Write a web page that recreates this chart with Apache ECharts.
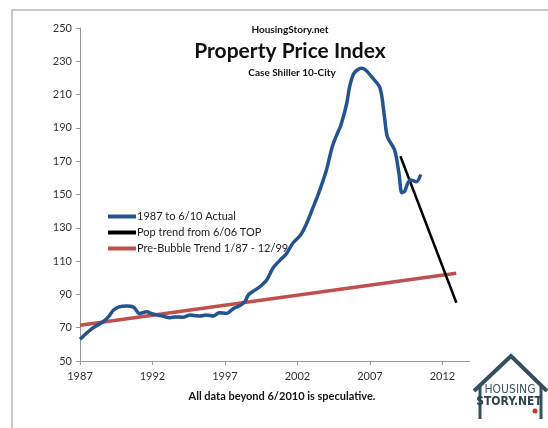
<!DOCTYPE html>
<html>
<head>
<meta charset="utf-8">
<script src="https://cdn.jsdelivr.net/npm/echarts@6/dist/echarts.min.js"></script>
<style>html,body{margin:0;padding:0;background:#fff}#c{width:548px;height:428px}</style>
</head>
<body>
<div id="c"></div>
<script>
// Actual index (decimal year, value)
var actualYears = [1987.0,1987.3,1987.7,1988.1,1988.6,1989.0,1989.3,1989.7,1990.2,1990.7,1991.1,1991.6,1992.0,1992.4,1992.7,1993.2,1993.6,1994.1,1994.6,1995.0,1995.3,1995.7,1996.2,1996.6,1997.1,1997.6,1998.1,1998.4,1998.6,1998.9,1999.4,1999.9,2000.3,2000.8,2001.2,2001.7,2002.2,2002.6,2003.1,2003.5,2004.0,2004.4,2004.8,2005.0,2005.4,2005.6,2005.9,2006.4,2006.7,2007.2,2007.7,2008.0,2008.2,2008.7,2009.0,2009.2,2009.4,2009.6,2009.8,2010.2,2010.5];
var actualValues = [63,65.5,68.6,71,73.6,77,80.5,82.5,83,82.3,78.6,79.6,78.2,77.5,77,76,76.5,76.3,77.6,77.2,77,77.6,77,79,78.6,81.6,83.6,86,89.6,91.6,94.6,99,105.7,110.6,114,121,125.5,132,142.7,151.7,164.7,178.7,187.7,191.7,204.8,214.8,222.8,225.8,224.8,219.8,213.8,196.7,184.7,176.7,162.7,151,152,156.7,158.7,157.7,162];
var popYears = [2009.1, 2012.96];
var popValues = [173, 85];
var trendYears = [1987.0, 2012.95];
var trendValues = [71.5, 102.7];
var xTicks = [1987, 1992, 1997, 2002, 2007, 2012];
var seriesNames = ['1987 to 6/10 Actual', 'Pop trend from 6/06 TOP', 'Pre-Bubble Trend 1/87 - 12/99'];

function zip(a, b) { return a.map(function (v, i) { return [v, b[i]]; }); }

var FONT = 'Lato, "Open Sans", sans-serif';
var chart = echarts.init(document.getElementById('c'), null, {renderer: 'canvas'});
chart.setOption({
  backgroundColor: '#fff',
  animation: false,
  textStyle: {fontFamily: FONT},
  title: [
    {text: 'HousingStory.net', left: 285, top: 20, textAlign: 'center',
     textStyle: {fontSize: 10, fontWeight: 'bold', color: '#111', fontFamily: FONT}},
    {text: 'Property Price Index', left: 285, top: 36, textAlign: 'center',
     textStyle: {fontSize: 21, fontWeight: 'bold', color: '#111', fontFamily: FONT}},
    {text: 'Case Shiller 10-City', left: 287, top: 63, textAlign: 'center',
     textStyle: {fontSize: 10, fontWeight: 'bold', color: '#111', fontFamily: FONT}},
    {text: 'All data beyond 6/2010 is speculative.', left: 277, top: 386, textAlign: 'center',
     textStyle: {fontSize: 11, fontWeight: 'bold', color: '#111', fontFamily: FONT}}
  ],
  legend: {
    orient: 'vertical', left: 103, top: 206, itemGap: 5,
    itemWidth: 28, itemHeight: 4, icon: 'rect',
    textStyle: {fontSize: 11, color: '#222', fontFamily: FONT, padding: [0, 0, 0, -4]},
    data: seriesNames
  },
  grid: {left: 80, right: 78, top: 28, bottom: 67, containLabel: false},
  xAxis: {
    type: 'value', min: 1987, max: 2013.9,
    splitLine: {show: false},
    axisLine: {lineStyle: {color: '#999', width: 1}},
    axisTick: {customValues: xTicks, length: 4, lineStyle: {color: '#999'}},
    axisLabel: {customValues: xTicks, fontSize: 11, color: '#333', margin: 10, fontFamily: FONT,
                formatter: function (v) { return String(v); }}
  },
  yAxis: {
    type: 'value', min: 50, max: 250, interval: 20,
    splitLine: {show: false},
    axisLine: {show: true, lineStyle: {color: '#999', width: 1}},
    axisTick: {show: true, length: 4, lineStyle: {color: '#999'}},
    axisLabel: {fontSize: 11, color: '#333', margin: 8, fontFamily: FONT}
  },
  series: [
    {name: seriesNames[2], type: 'line', data: zip(trendYears, trendValues), showSymbol: false,
     lineStyle: {color: '#c0504d', width: 3.5}, itemStyle: {color: '#c0504d'}, z: 2},
    {name: seriesNames[1], type: 'line', data: zip(popYears, popValues), showSymbol: false,
     lineStyle: {color: '#000', width: 2.5}, itemStyle: {color: '#000'}, z: 3},
    {name: seriesNames[0], type: 'line', data: zip(actualYears, actualValues), showSymbol: false,
     smooth: 0.3, lineStyle: {color: '#24548f', width: 3.5}, itemStyle: {color: '#24548f'}, z: 4}
  ],
  graphic: [
    {type: 'polyline', shape: {points: [[12, 428], [12, 10], [548, 10]]},
     style: {stroke: '#b5b5b5', lineWidth: 1.5, fill: null}},
    {type: 'polyline', shape: {points: [[474, 391], [511, 356], [547, 391]]},
     style: {stroke: '#34505f', lineWidth: 4, fill: null}},
    {type: 'line', shape: {x1: 480, y1: 386, x2: 480, y2: 419}, style: {stroke: '#34505f', lineWidth: 3}},
    {type: 'line', shape: {x1: 541, y1: 386, x2: 541, y2: 419}, style: {stroke: '#34505f', lineWidth: 3}},
    {type: 'text', x: 510, y: 390, style: {text: 'HOUSING', align: 'center', verticalAlign: 'middle',
      font: '12px "Liberation Sans Narrow", "DejaVu Sans Condensed", sans-serif', fill: '#3e5563',
      stroke: '#fff', lineWidth: 1}},
    {type: 'text', x: 509, y: 402, style: {text: 'STORY.NET', align: 'center', verticalAlign: 'middle',
      font: 'bold 12px "Liberation Sans Narrow", "DejaVu Sans Condensed", sans-serif', fill: '#2d4452'}},
    {type: 'circle', shape: {cx: 535, cy: 411, r: 2.5}, style: {fill: '#c0392b'}}
  ]
});
</script>
</body>
</html>
